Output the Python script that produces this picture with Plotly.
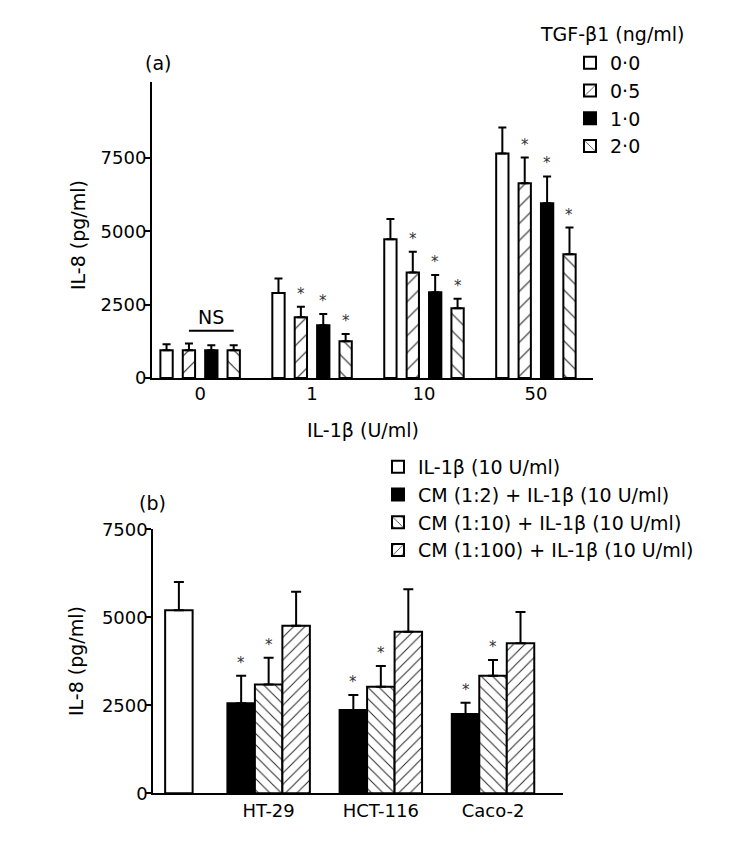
import plotly.graph_objects as go

# the page body adds an 8 px margin, so the figure is drawn 8 px in and down
PAGE_OFF = 8
W, H = 729 - PAGE_OFF, 843 - PAGE_OFF
FONT = "DejaVu Sans"

# ---------------- Panel (a) data ----------------
a_doses = ["0", "1", "10", "50"]
a_tgf_names = ["0·0", "0·5", "1·0", "2·0"]
a_tgf00 = [950, 2900, 4730, 7650]
a_tgf00_sd = [200, 490, 690, 890]
a_tgf05 = [950, 2070, 3600, 6640]
a_tgf05_sd = [230, 360, 700, 875]
a_tgf10 = [950, 1800, 2920, 5960]
a_tgf10_sd = [170, 385, 590, 910]
a_tgf20 = [950, 1250, 2380, 4220]
a_tgf20_sd = [170, 250, 320, 910]
a_tgf00_sig = [False, False, False, False]
a_tgf05_sig = [False, True, True, True]
a_tgf10_sig = [False, True, True, True]
a_tgf20_sig = [False, True, True, True]
a_yticks = [0, 2500, 5000, 7500]

# ---------------- Panel (b) data ----------------
b_cells = ["HT-29", "HCT-116", "Caco-2"]
b_names = ["IL-1β (10 U/ml)", "CM (1:2) + IL-1β (10 U/ml)",
           "CM (1:10) + IL-1β (10 U/ml)", "CM (1:100) + IL-1β (10 U/ml)"]
b_il1b = [5200]
b_il1b_sd = [800]
b_cm2 = [2560, 2370, 2250]
b_cm2_sd = [780, 425, 320]
b_cm10 = [3090, 3030, 3340]
b_cm10_sd = [760, 590, 445]
b_cm100 = [4760, 4590, 4260]
b_cm100_sd = [965, 1210, 890]
b_cm2_sig = [True, True, True]
b_cm10_sig = [True, True, True]
b_cm100_sig = [False, False, False]
b_yticks = [0, 2500, 5000, 7500]


def px(x):
    return (x - PAGE_OFF) / W


def py(y):
    return 1 - (y - PAGE_OFF) / H


fig = go.Figure()
annotations = []
STAR = dict(family=FONT, size=15, color="#333")

# ---- panel (a) traces ----
a_series = [
    (a_tgf00, a_tgf00_sd, a_tgf00_sig, "", "white"),
    (a_tgf05, a_tgf05_sd, a_tgf05_sig, "/", "white"),
    (a_tgf10, a_tgf10_sd, a_tgf10_sig, "", "black"),
    (a_tgf20, a_tgf20_sd, a_tgf20_sig, "\\", "white"),
]
a_offsets = [-0.3, -0.1, 0.1, 0.3]
for i, (vals, sd, sig, shape, col) in enumerate(a_series):
    xs = [g + a_offsets[i] for g in range(len(a_doses))]
    marker = dict(color=col, line=dict(color="black", width=2))
    if shape:
        marker["pattern"] = dict(shape=shape, fgcolor="#222", bgcolor="white",
                                 size=12, solidity=0.09)
    fig.add_trace(go.Bar(
        x=xs, y=vals, width=0.11, name=a_tgf_names[i], marker=marker,
        error_y=dict(type="data", array=sd, arrayminus=[0] * len(sd),
                     symmetric=False, color="black", thickness=2, width=4),
        xaxis="x", yaxis="y", legend="legend",
    ))
    for x, v, s, f in zip(xs, vals, sd, sig):
        if f:
            annotations.append(dict(x=x, y=v + s, xref="x", yref="y", text="*",
                                    showarrow=False, yanchor="bottom", yshift=2,
                                    font=STAR))

# ---- panel (b) traces ----
fig.add_trace(go.Bar(
    x=[0.2], y=b_il1b, width=0.245, name=b_names[0],
    marker=dict(color="white", line=dict(color="black", width=2)),
    error_y=dict(type="data", array=b_il1b_sd, arrayminus=[0], symmetric=False,
                 color="black", thickness=2, width=5),
    xaxis="x2", yaxis="y2", legend="legend2",
))
b_series = [
    (b_cm2, b_cm2_sd, b_cm2_sig, "", "black", -0.245),
    (b_cm10, b_cm10_sd, b_cm10_sig, "\\", "white", 0.0),
    (b_cm100, b_cm100_sd, b_cm100_sig, "/", "white", 0.245),
]
for i, (vals, sd, sig, shape, col, off) in enumerate(b_series):
    xs = [g + 1 + off for g in range(len(b_cells))]
    marker = dict(color=col, line=dict(color="black", width=2))
    if shape:
        marker["pattern"] = dict(shape=shape, fgcolor="#222", bgcolor="white",
                                 size=8, solidity=0.12)
    fig.add_trace(go.Bar(
        x=xs, y=vals, width=0.245, name=b_names[i + 1], marker=marker,
        error_y=dict(type="data", array=sd, arrayminus=[0] * len(sd),
                     symmetric=False, color="black", thickness=2, width=5),
        xaxis="x2", yaxis="y2", legend="legend2",
    ))
    for x, v, s, f in zip(xs, vals, sd, sig):
        if f:
            annotations.append(dict(x=x, y=v + s, xref="x2", yref="y2", text="*",
                                    showarrow=False, yanchor="bottom", yshift=2,
                                    font=STAR))

# ---- text annotations ----
tfont = dict(family=FONT, size=19, color="black")


def label(x, y, text, angle=0):
    return dict(x=px(x), y=py(y), xref="paper", yref="paper", text=text,
                textangle=angle, showarrow=False, xanchor="center",
                yanchor="middle", font=tfont)


annotations += [
    label(158, 63, "(a)"),
    label(152, 503, "(b)"),
    label(78, 235, "IL-8 (pg/ml)", -90),
    label(76, 661, "IL-8 (pg/ml)", -90),
    label(362.5, 430, "IL-1β (U/ml)"),
    label(612, 34, "TGF-β1 (ng/ml)"),
    dict(x=0.1, y=2090, xref="x", yref="y", text="NS", showarrow=False,
         xanchor="center", yanchor="middle", font=tfont),
]

shapes = [
    dict(type="line", x0=-0.1, x1=0.3, y0=1610, y1=1610, xref="x", yref="y",
         line=dict(color="black", width=2)),
]

axis_common = dict(showline=True, linewidth=2, linecolor="black", showgrid=False,
                   zeroline=False, automargin=False,
                   tickfont=dict(family=FONT, size=18, color="black"))
yaxis_ticks = dict(ticks="outside", ticklen=5, tickwidth=2, tickcolor="black",
                   ticklabelstandoff=-5)

fig.update_layout(
    template="none",
    width=W, height=H, margin=dict(l=0, r=0, t=0, b=0, autoexpand=False),
    plot_bgcolor="white", paper_bgcolor="white", barmode="overlay",
    font=dict(family=FONT, size=18, color="black"),
    xaxis=dict(domain=[px(152), px(593)], range=[-0.43, 3.51],
               tickvals=list(range(len(a_doses))), ticktext=a_doses, ticks="",
               ticklabelstandoff=-2, anchor="y", **axis_common),
    yaxis=dict(domain=[py(378), py(81.7)], range=[0, 10100], tickvals=a_yticks,
               anchor="x", **yaxis_ticks, **axis_common),
    xaxis2=dict(domain=[px(153.3), px(562.7)], range=[-0.028, 3.621],
                tickvals=[g + 1 for g in range(len(b_cells))], ticktext=b_cells,
                ticks="", anchor="y2", **axis_common),
    yaxis2=dict(domain=[py(793.3), py(529.3)], range=[0, 7500], tickvals=b_yticks,
                anchor="x2", **yaxis_ticks, **axis_common),
    legend=dict(x=px(570), y=py(44), xanchor="left", yanchor="top",
                font=dict(family=FONT, size=19, color="black"),
                tracegroupgap=0, bgcolor="rgba(0,0,0,0)", borderwidth=0),
    legend2=dict(x=px(378), y=py(448), xanchor="left", yanchor="top",
                 font=dict(family=FONT, size=19, color="black"),
                 tracegroupgap=0, bgcolor="rgba(0,0,0,0)", borderwidth=0),
    annotations=annotations,
    shapes=shapes,
)

fig.write_html("out.html")
